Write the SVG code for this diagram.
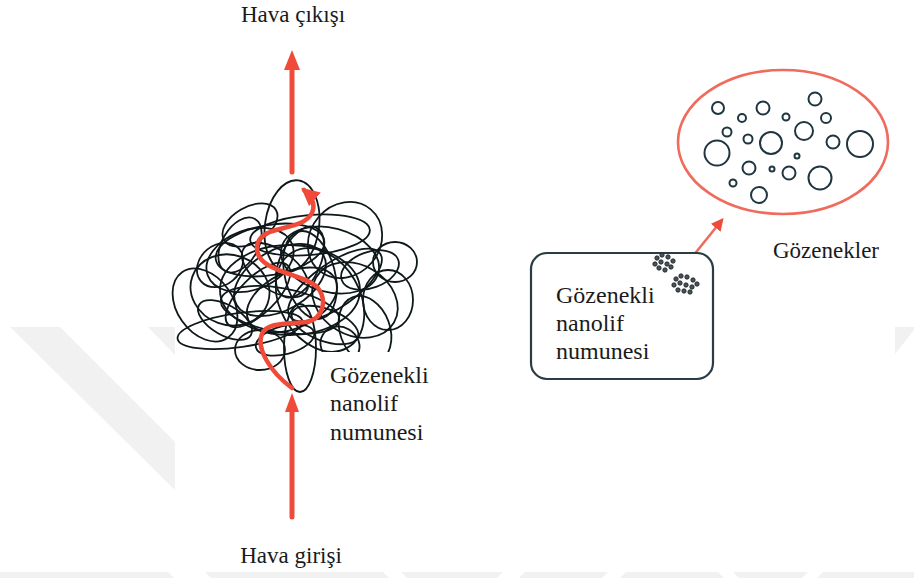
<svg xmlns="http://www.w3.org/2000/svg" width="914" height="578" viewBox="0 0 914 578">
  <style>
    text { font-family: "Liberation Serif", "Times New Roman", "DejaVu Serif", serif; fill: #1a1a1a; }
    .wm { fill: #f1f1f1; }
    .fiber { fill: none; stroke: #0e1719; stroke-width: 1.8; }
    .flow { stroke: #f04a38; stroke-linecap: round; fill: none; }
    .pore { fill: none; stroke: #1f3640; stroke-width: 2; }
    .grain { fill: #4a5256; stroke: #1a2226; stroke-width: 0.8; }
  </style>
  <defs>
    <marker id="headSmall" viewBox="0 0 10 10" refX="8" refY="5" markerWidth="4" markerHeight="4" orient="auto" markerUnits="strokeWidth">
      <path d="M0,0 L10,5 L0,10 z" fill="#f04a38"/>
    </marker>
    <marker id="headThin" viewBox="0 0 10 10" refX="8" refY="5" markerWidth="5" markerHeight="5" orient="auto" markerUnits="strokeWidth">
      <path d="M0,0 L10,5 L0,10 z" fill="#f04a38"/>
    </marker>
  </defs>

  <rect width="914" height="578" fill="#ffffff"/>

  <!-- background watermark bands -->
  <g id="watermark">
    <polygon class="wm" points="10,327 60,327 175,442 175,490"/>
    <polygon class="wm" points="148,327 175,327 175,355"/>
    <polygon class="wm" points="895,327 914,327 914,330 895,354"/>
    <rect class="wm" x="0" y="572" width="914" height="6"/>
    <g fill="#ffffff">
      <polygon points="168,572 205,572 211,578 174,578"/>
      <polygon points="383,572 401,572 407,578 389,578"/>
      <polygon points="503,572 525,572 519,578 497,578"/>
      <polygon points="608,572 626,572 620,578 602,578"/>
      <polygon points="718,572 733,572 739,578 724,578"/>
      <polygon points="808,572 823,572 817,578 802,578"/>
    </g>
    <!-- white field of the figure -->
    <rect x="175" y="30" width="720" height="505" fill="#ffffff"/>
  </g>

  <!-- tangled nanofibre sample -->
  <g id="fibre-mat">
    <ellipse class="fiber" cx="292" cy="226" rx="27" ry="46" transform="rotate(8 292 226)"/>
    <ellipse class="fiber" cx="240" cy="330" rx="63" ry="17" transform="rotate(-8 240 330)"/>
    <ellipse class="fiber" cx="395" cy="262" rx="22" ry="20"/>
    <ellipse class="fiber" cx="300" cy="348" rx="16" ry="44"/>
    <ellipse class="fiber" cx="250" cy="260" rx="45" ry="30" transform="rotate(-20 250 260)"/>
    <ellipse class="fiber" cx="330" cy="260" rx="50" ry="32" transform="rotate(15 330 260)"/>
    <ellipse class="fiber" cx="290" cy="290" rx="70" ry="45"/>
    <ellipse class="fiber" cx="270" cy="250" rx="55" ry="25" transform="rotate(-10 270 250)"/>
    <ellipse class="fiber" cx="320" cy="300" rx="40" ry="55" transform="rotate(-30 320 300)"/>
    <ellipse class="fiber" cx="355" cy="300" rx="45" ry="35" transform="rotate(30 355 300)"/>
    <ellipse class="fiber" cx="230" cy="290" rx="40" ry="35" transform="rotate(20 230 290)"/>
    <ellipse class="fiber" cx="280" cy="310" rx="60" ry="22" transform="rotate(10 280 310)"/>
    <ellipse class="fiber" cx="310" cy="235" rx="60" ry="20" transform="rotate(-5 310 235)"/>
    <ellipse class="fiber" cx="250" cy="225" rx="30" ry="18" transform="rotate(-30 250 225)"/>
    <ellipse class="fiber" cx="365" cy="330" rx="25" ry="35" transform="rotate(-20 365 330)"/>
    <ellipse class="fiber" cx="205" cy="305" rx="28" ry="40" transform="rotate(-35 205 305)"/>
    <ellipse class="fiber" cx="345" cy="240" rx="35" ry="40" transform="rotate(40 345 240)"/>
    <ellipse class="fiber" cx="280" cy="280" rx="30" ry="50" transform="rotate(60 280 280)"/>
    <ellipse class="fiber" cx="310" cy="275" rx="25" ry="45" transform="rotate(-15 310 275)"/>
    <ellipse class="fiber" cx="260" cy="350" rx="25" ry="20"/>
    <ellipse class="fiber" cx="340" cy="345" rx="20" ry="18" transform="rotate(30 340 345)"/>
    <ellipse class="fiber" cx="388" cy="300" rx="25" ry="30"/>
    <ellipse class="fiber" cx="220" cy="265" rx="25" ry="20" transform="rotate(-40 220 265)"/>
    <ellipse class="fiber" cx="292" cy="300" rx="48" ry="28" transform="rotate(-25 292 300)"/>
    <ellipse class="fiber" cx="335" cy="285" rx="55" ry="22" transform="rotate(-35 335 285)"/>
    <ellipse class="fiber" cx="275" cy="270" rx="38" ry="20" transform="rotate(35 275 270)"/>
    <ellipse class="fiber" cx="300" cy="262" rx="20" ry="38" transform="rotate(25 300 262)"/>
    <ellipse class="fiber" cx="258" cy="295" rx="42" ry="18" transform="rotate(-45 258 295)"/>
    <ellipse class="fiber" cx="325" cy="325" rx="35" ry="16" transform="rotate(20 325 325)"/>
    <ellipse class="fiber" cx="240" cy="245" rx="18" ry="30" transform="rotate(30 240 245)"/>
    <ellipse class="fiber" cx="370" cy="270" rx="30" ry="18" transform="rotate(-20 370 270)"/>
    <ellipse class="fiber" cx="285" cy="340" rx="30" ry="14" transform="rotate(-15 285 340)"/>
    <ellipse class="fiber" cx="225" cy="320" rx="30" ry="15" transform="rotate(30 225 320)"/>
  </g>

  <!-- label panel over the fibre mat -->
  <g id="label-sample-left">
    <rect x="317" y="352" width="125" height="100" fill="#ffffff"/>
    <text font-size="24" x="330" y="383">Gözenekli</text>
    <text font-size="24" x="330" y="411">nanolif</text>
    <text font-size="24" x="330" y="440">numunesi</text>
  </g>

  <!-- air flow arrows -->
  <g id="connectors">
    <line class="flow" x1="292" y1="517" x2="292" y2="410" stroke-width="5"/>
    <polygon points="292,393 285,412 299,412" fill="#f04a38"/>
    <line class="flow" x1="292" y1="172" x2="292" y2="68" stroke-width="5"/>
    <polygon points="292,50 284,70 300,70" fill="#f04a38"/>
    <path class="flow" stroke-width="4.5" marker-end="url(#headSmall)"
          d="M292,388 C270,372 256,348 262,334 C267,322 288,324 306,322 C324,319 327,300 318,288 C309,278 285,275 268,265 C252,255 254,238 270,232 C286,226 305,226 312,213 C316,204 311,196 304,190"/>
    <line x1="676" y1="277" x2="722" y2="220" stroke="#f06a5a" stroke-width="2.5" marker-end="url(#headThin)"/>
  </g>

  <g id="label-air-out">
    <text font-size="23" x="293" y="22" text-anchor="middle">Hava çıkışı</text>
  </g>
  <g id="label-air-in">
    <text font-size="23" x="291" y="563" text-anchor="middle">Hava girişi</text>
  </g>

  <!-- sample box with pore clusters -->
  <g id="sample-box">
    <rect x="531" y="253" width="182" height="126" rx="16" ry="16" fill="#ffffff" stroke="#2b3c44" stroke-width="2.2"/>
    <text font-size="24" x="556" y="303">Gözenekli</text>
    <text font-size="24" x="556" y="331">nanolif</text>
    <text font-size="24" x="556" y="359">numunesi</text>
    <g id="pore-cluster">
      <circle class="grain" cx="657" cy="258" r="2.2"/>
      <circle class="grain" cx="662" cy="255" r="2.2"/>
      <circle class="grain" cx="668" cy="257" r="2.2"/>
      <circle class="grain" cx="673" cy="261" r="2.2"/>
      <circle class="grain" cx="655" cy="264" r="2.2"/>
      <circle class="grain" cx="661" cy="262" r="2.2"/>
      <circle class="grain" cx="667" cy="264" r="2.2"/>
      <circle class="grain" cx="659" cy="268" r="2.2"/>
      <circle class="grain" cx="665" cy="270" r="2.2"/>
      <circle class="grain" cx="671" cy="267" r="2.2"/>
      <circle class="grain" cx="676" cy="279" r="2.2"/>
      <circle class="grain" cx="681" cy="276" r="2.2"/>
      <circle class="grain" cx="687" cy="277" r="2.2"/>
      <circle class="grain" cx="693" cy="280" r="2.2"/>
      <circle class="grain" cx="674" cy="285" r="2.2"/>
      <circle class="grain" cx="680" cy="283" r="2.2"/>
      <circle class="grain" cx="686" cy="285" r="2.2"/>
      <circle class="grain" cx="692" cy="287" r="2.2"/>
      <circle class="grain" cx="697" cy="284" r="2.2"/>
      <circle class="grain" cx="678" cy="290" r="2.2"/>
      <circle class="grain" cx="684" cy="291" r="2.2"/>
      <circle class="grain" cx="690" cy="292" r="2.2"/>
    </g>
  </g>

  <!-- magnified view of the pores -->
  <g id="pore-view">
    <ellipse cx="783" cy="142" rx="105" ry="72" fill="#ffffff" stroke="#ef6b5d" stroke-width="2.6"/>
    <circle class="pore" cx="718" cy="108" r="6"/>
    <circle class="pore" cx="763" cy="108" r="6.5"/>
    <circle class="pore" cx="815" cy="99" r="6.5"/>
    <circle class="pore" cx="742" cy="118" r="4"/>
    <circle class="pore" cx="786" cy="117" r="3.5"/>
    <circle class="pore" cx="826" cy="118" r="5"/>
    <circle class="pore" cx="727" cy="132" r="4.5"/>
    <circle class="pore" cx="804" cy="131" r="9"/>
    <circle class="pore" cx="748" cy="139" r="4.5"/>
    <circle class="pore" cx="771" cy="143" r="11"/>
    <circle class="pore" cx="833" cy="142" r="6.5"/>
    <circle class="pore" cx="860" cy="144" r="13"/>
    <circle class="pore" cx="717" cy="153" r="12.5"/>
    <circle class="pore" cx="797" cy="156" r="2.5"/>
    <circle class="pore" cx="749" cy="168" r="6.5"/>
    <circle class="pore" cx="772" cy="169" r="2.5"/>
    <circle class="pore" cx="789" cy="173" r="6.5"/>
    <circle class="pore" cx="820" cy="178" r="11.5"/>
    <circle class="pore" cx="733" cy="183" r="3.5"/>
    <circle class="pore" cx="759" cy="195" r="8"/>
  </g>

  <g id="label-pores">
    <text font-size="23" x="773" y="258">Gözenekler</text>
  </g>
</svg>
